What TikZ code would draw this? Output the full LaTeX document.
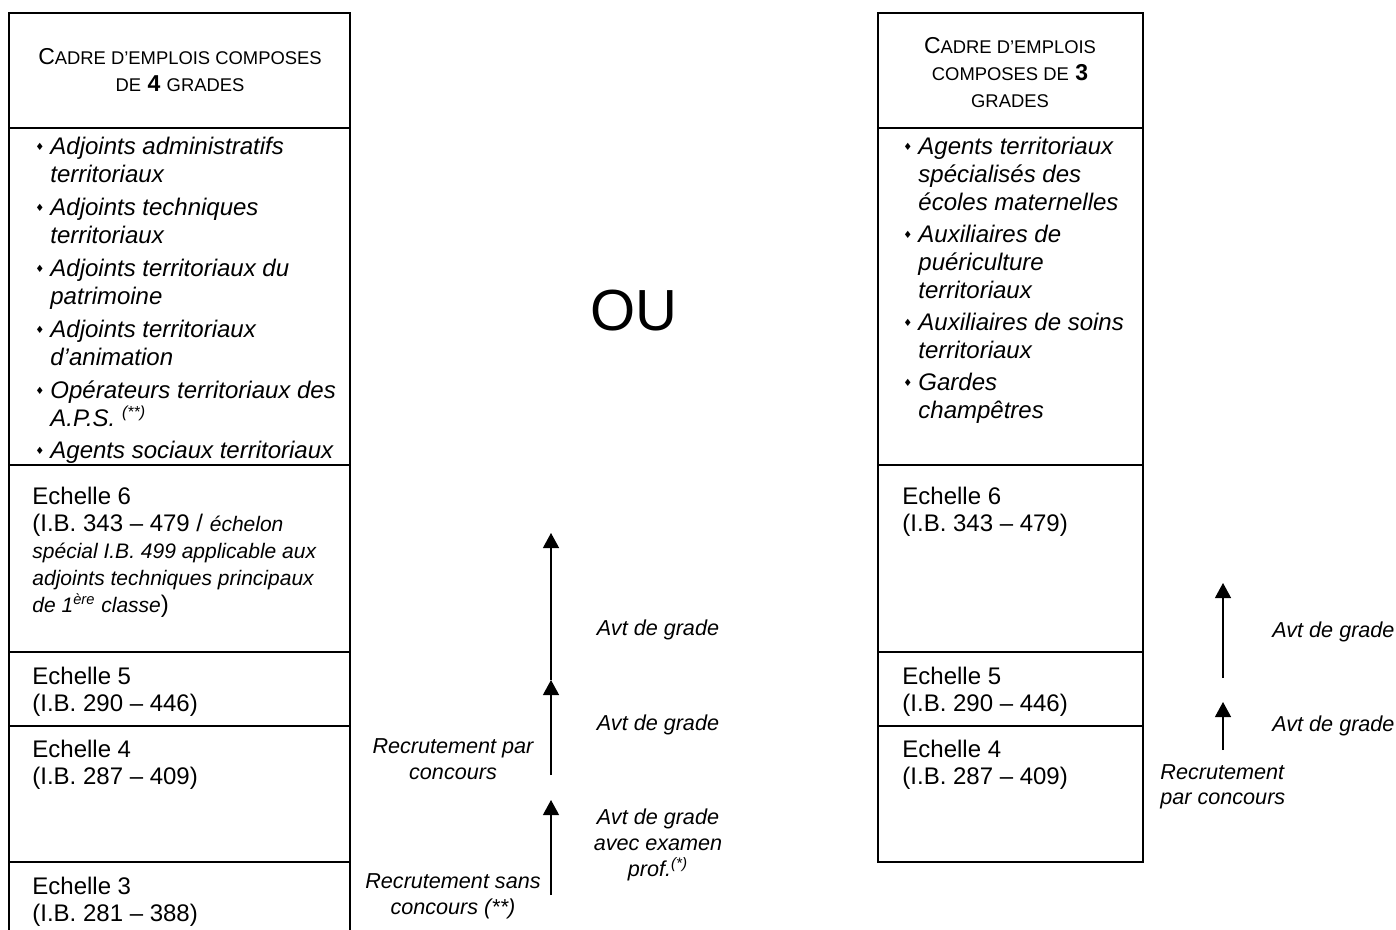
\documentclass[tikz,border=0pt]{standalone}
\usepackage{fontspec}
\setmainfont{Liberation Sans}
\newfontfamily\symfont{DejaVu Sans}
\usetikzlibrary{arrows.meta}
\newcommand\bul{\makebox[7.5pt][l]{\raisebox{2pt}{\symfont\fontsize{5}{5}\selectfont ♦}}}
\newcommand\ind{\hspace*{7.5pt}}
\newcommand\smc[1]{{\fontsize{9.2}{13}\selectfont #1}}
\newcommand\petit[1]{{\fontsize{10.5}{13}\selectfont\itshape #1}}

\begin{document}
\begin{tikzpicture}[x=0.5pt, y=-0.5pt,
    frame/.style={line width=1pt},
    head/.style={font=\fontsize{11.5}{13.5}\selectfont, align=center, inner sep=0pt},
    liste/.style={font=\fontsize{12}{14}\selectfont\itshape, align=left, anchor=north west, inner sep=0pt},
    echelle/.style={font=\fontsize{12}{13.5}\selectfont, align=left, anchor=north west, inner sep=0pt},
    lbl/.style={font=\fontsize{10.8}{12.8}\selectfont\itshape, align=center, inner sep=0pt},
    arr/.style={-{Triangle[length=7.5pt,width=8pt]}, line width=0.6pt}
  ]
    \useasboundingbox (0,0) rectangle (1396,930);

    % cadre a 4 grades
    \draw[frame] (9,930) -- (9,13) -- (350,13) -- (350,930);
    \foreach \y in {128,465,652,726,862}
      \draw[frame] (9,\y) -- (350,\y);

    % cadre a 3 grades
    \draw[frame] (878,13) rectangle (1143,862);
    \foreach \y in {128,465,652,726}
      \draw[frame] (878,\y) -- (1143,\y);

    \node[head] (titreA) at (180,70) {C\smc{ADRE D’EMPLOIS COMPOSES}\\\smc{DE} \textbf{4} \smc{GRADES}};
    \node[head] (titreB) at (1010,73) {C\smc{ADRE D’EMPLOIS}\\\smc{COMPOSES DE} \textbf{3}\\\smc{GRADES}};

    \node[liste] (adm) at (35,137) {\bul Adjoints administratifs\\\ind territoriaux};
    \node[liste] (tech) at (35,198) {\bul Adjoints techniques\\\ind territoriaux};
    \node[liste] (patr) at (35,259) {\bul Adjoints territoriaux du\\\ind patrimoine};
    \node[liste] (anim) at (35,320) {\bul Adjoints territoriaux\\\ind d’animation};
    \node[liste] (aps) at (35,380) {\bul Opérateurs territoriaux des\\\ind A.P.S. \textsuperscript{(**)}};
    \node[liste] (soc) at (35,441) {\bul Agents sociaux territoriaux};

    \node[liste] (atsem) at (903,137) {\bul Agents territoriaux\\\ind spécialisés des\\\ind écoles maternelles};
    \node[liste] (puer) at (903,225) {\bul Auxiliaires de\\\ind puériculture\\\ind territoriaux};
    \node[liste] (soins) at (903,313) {\bul Auxiliaires de soins\\\ind territoriaux};
    \node[liste] (gardes) at (903,373) {\bul Gardes\\\ind champêtres};

    \node[echelle] (e6a) at (32,487) {Echelle 6\\(I.B. 343 – 479 / \petit{échelon}\\\petit{spécial I.B. 499 applicable aux}\\\petit{adjoints techniques principaux}\\\petit{de 1\textsuperscript{ère} classe})};
    \node[echelle] (e5a) at (32,667) {Echelle 5\\(I.B. 290 – 446)};
    \node[echelle] (e4a) at (32,740) {Echelle 4\\(I.B. 287 – 409)};
    \node[echelle] (e3a) at (32,877) {Echelle 3\\(I.B. 281 – 388)};

    \node[echelle] (e6b) at (902,487) {Echelle 6\\(I.B. 343 – 479)};
    \node[echelle] (e5b) at (902,667) {Echelle 5\\(I.B. 290 – 446)};
    \node[echelle] (e4b) at (902,740) {Echelle 4\\(I.B. 287 – 409)};

    \node[font=\fontsize{29}{29}\selectfont, inner sep=0pt] (ou) at (634,311) {OU};

    % avancements
    \coordinate (p0) at (551,895);
    \coordinate (p1) at (551,800);
    \coordinate (p2) at (551,775);
    \coordinate (p3) at (551,680);
    \coordinate (p4) at (551,533);
    \draw[arr] (p0) -- (p1);
    \draw[arr] (p2) -- (p3);
    \draw[arr] (p3) -- (p4);

    \coordinate (q0) at (1223,750);
    \coordinate (q1) at (1223,702);
    \coordinate (q2) at (1223,678);
    \coordinate (q3) at (1223,583);
    \draw[arr] (q0) -- (q1);
    \draw[arr] (q2) -- (q3);

    \node[lbl] (avt3) at (658,630) {Avt de grade};
    \node[lbl] (avt2) at (658,725) {Avt de grade};
    \node[lbl] (rec1) at (453,759) {Recrutement par\\concours};
    \node[lbl] (avt1) at (658,845) {Avt de grade\\avec examen\\prof.\textsuperscript{(*)}};
    \node[lbl] (rec0) at (453,896) {Recrutement sans\\concours (**)};

    \node[lbl, anchor=west] (avtB2) at (1272,632) {Avt de grade};
    \node[lbl, anchor=west] (avtB1) at (1272,726) {Avt de grade};
    \node[lbl, anchor=west, align=left] (recB) at (1160,787) {Recrutement\\par concours};
\end{tikzpicture}
\end{document}
